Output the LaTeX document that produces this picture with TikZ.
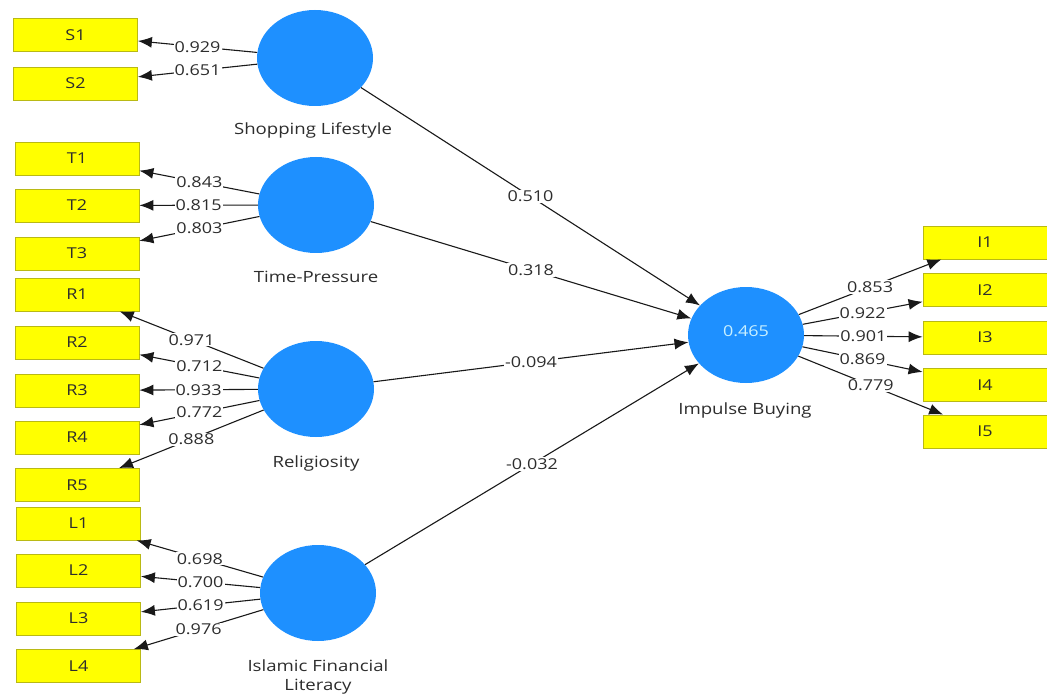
\documentclass[tikz,border=0pt]{standalone}
\usepackage{fontspec}
\setmainfont{Open Sans}[FakeStretch=1.2]
\usetikzlibrary{shapes.geometric,arrows.meta}
\definecolor{indyellow}{RGB}{255,255,0}
\definecolor{indborder}{RGB}{185,185,20}
\definecolor{latblue}{RGB}{30,144,255}
\definecolor{txtgray}{RGB}{45,45,45}
\definecolor{rsq}{RGB}{200,240,255}
\tikzset{
  ind/.style={draw=indborder, line width=0.8pt, fill=indyellow, minimum width=124pt, minimum height=33pt, inner sep=0pt, font=\fontsize{15}{17}\selectfont, text=txtgray},
  lat/.style={ellipse, fill=latblue, minimum width=116pt, minimum height=96pt, inner sep=0pt},
  latlabel/.style={font=\fontsize{15.5}{19}\selectfont, text=txtgray, align=center},
  conn/.style={draw=black!90, line width=1.1pt, -{Latex[length=14pt,width=11pt]}},
  wt/.style={fill=white, inner sep=1pt, font=\fontsize{15}{17}\selectfont, text=txtgray}
}
\begin{document}
\begin{tikzpicture}[x=1pt,y=-1pt]
\useasboundingbox[fill=white] (0,0) rectangle (1047,695);
% indicator boxes
\node[ind] (S1) at (75.5,35) {S1};
\node[ind] (S2) at (75.5,83.5) {S2};
\node[ind] (T1) at (77,158.5) {T1};
\node[ind] (T2) at (77,205.5) {T2};
\node[ind] (T3) at (77,253.5) {T3};
\node[ind] (R1) at (77,294.5) {R1};
\node[ind] (R2) at (77,342.5) {R2};
\node[ind] (R3) at (77,390.5) {R3};
\node[ind] (R4) at (77,437.5) {R4};
\node[ind] (R5) at (77,485) {R5};
\node[ind] (L1) at (78.5,523.5) {L1};
\node[ind] (L2) at (78.5,570.5) {L2};
\node[ind] (L3) at (78.5,618.5) {L3};
\node[ind] (L4) at (78.5,666) {L4};
\node[ind] (I1) at (985,242.5) {I1};
\node[ind] (I2) at (985,290) {I2};
\node[ind] (I3) at (985,337.5) {I3};
\node[ind] (I4) at (985,385) {I4};
\node[ind] (I5) at (985,431.5) {I5};
% latent variables
\node[lat] (SL) at (315,58) {};
\node[lat] (TP) at (316,205) {};
\node[lat] (RE) at (316,389) {};
\node[lat] (IF) at (318,593) {};
\node[lat] (IB) at (746,335) {};
\node[font=\fontsize{15}{17}\selectfont, text=rsq] (r2) at (746,331) {0.465};
% latent labels
\node[latlabel] (SLl) at (313,130) {Shopping Lifestyle};
\node[latlabel] (TPl) at (316,277) {Time-Pressure};
\node[latlabel] (REl) at (316,463) {Religiosity};
\node[latlabel] (IFl) at (318,677) {Islamic Financial\\Literacy};
\node[latlabel] (IBl) at (745,410) {Impulse Buying};
% outer loadings
\draw[conn] (SL) -- node[wt]{0.929} (S1);
\draw[conn] (SL) -- node[wt]{0.651} (S2);
\draw[conn] (TP) -- node[wt]{0.843} (T1);
\draw[conn] (TP) -- node[wt]{0.815} (T2);
\draw[conn] (TP) -- node[wt]{0.803} (T3);
\draw[conn] (RE) -- node[wt]{0.971} (R1);
\draw[conn] (RE) -- node[wt]{0.712} (R2);
\draw[conn] (RE) -- node[wt]{0.933} (R3);
\draw[conn] (RE) -- node[wt]{0.772} (R4);
\draw[conn] (RE) -- node[wt]{0.888} (R5);
\draw[conn] (IF) -- node[wt]{0.698} (L1);
\draw[conn] (IF) -- node[wt]{0.700} (L2);
\draw[conn] (IF) -- node[wt]{0.619} (L3);
\draw[conn] (IF) -- node[wt]{0.976} (L4);
\draw[conn] (IB) -- node[wt]{0.853} (I1);
\draw[conn] (IB) -- node[wt]{0.922} (I2);
\draw[conn] (IB) -- node[wt]{0.901} (I3);
\draw[conn] (IB) -- node[wt]{0.869} (I4);
\draw[conn] (IB) -- node[wt]{0.779} (I5);
% path coefficients
\draw[conn] (SL) -- node[wt]{0.510} (IB);
\draw[conn] (TP) -- node[wt]{0.318} (IB);
\draw[conn] (RE) -- node[wt]{-0.094} (IB);
\draw[conn] (IF) -- node[wt]{-0.032} (IB);
\end{tikzpicture}
\end{document}
